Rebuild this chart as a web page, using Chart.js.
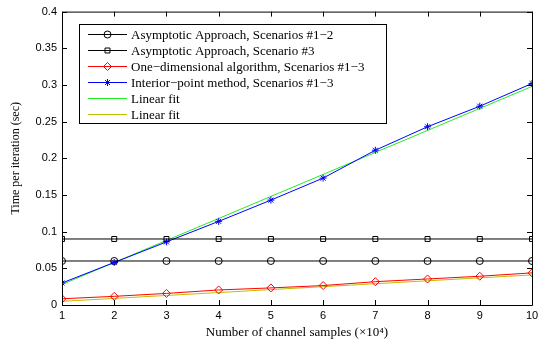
<!DOCTYPE html>
<html>
<head>
<meta charset="utf-8">
<script src="https://cdn.jsdelivr.net/npm/chart.js@4/dist/chart.umd.min.js"></script>
<style>
  html, body { margin: 0; padding: 0; background: #fff; }
  #wrap { width: 539px; height: 347px; }
</style>
</head>
<body>
<div id="wrap"><canvas id="chart" width="539" height="347"></canvas></div>
<script>
// ===== Data =====
const samples = [1, 2, 3, 4, 5, 6, 7, 8, 9, 10];
const yTicks = [0, 0.05, 0.1, 0.15, 0.2, 0.25, 0.3, 0.35, 0.4];

const asymp12 = [0.06, 0.06, 0.06, 0.06, 0.06, 0.06, 0.06, 0.06, 0.06, 0.06];
const asymp3 = [0.09, 0.09, 0.09, 0.09, 0.09, 0.09, 0.09, 0.09, 0.09, 0.09];
const oneDim = [0.0085, 0.0118, 0.0158, 0.0205, 0.0233, 0.0265, 0.0318, 0.0355, 0.0392, 0.0438];
const interior = [0.030, 0.058, 0.086, 0.114, 0.143, 0.173, 0.211, 0.243, 0.271, 0.302];
const fitInterior = [0.028, 0.058, 0.088, 0.118, 0.148, 0.178, 0.208, 0.238, 0.268, 0.298];
const fitOneDim = [0.005, 0.009, 0.013, 0.017, 0.021, 0.025, 0.029, 0.033, 0.037, 0.041];

const labels = [
  "Asymptotic Approach, Scenarios #1\u22122",
  "Asymptotic Approach, Scenario #3",
  "One\u2212dimensional algorithm, Scenarios #1\u22123",
  "Interior\u2212point method, Scenarios #1\u22123",
  "Linear fit",
  "Linear fit",
];

const toXY = (arr) => arr.map((v, i) => ({ x: samples[i], y: v }));

// ===== Plugins =====
// MATLAB style box with inward ticks
const boxTicks = {
  id: "boxTicks",
  afterDatasetsDraw(chart) {
    const { ctx, chartArea: a, scales } = chart;
    ctx.save();
    ctx.strokeStyle = "#000";
    ctx.lineWidth = 1;
    ctx.beginPath();
    ctx.rect(a.left + 0.5, a.top + 0.5, a.right - a.left, a.bottom - a.top);
    const len = 5;
    samples.forEach((v) => {
      const x = Math.round(scales.x.getPixelForValue(v)) + 0.5;
      ctx.moveTo(x, a.bottom); ctx.lineTo(x, a.bottom - len);
      ctx.moveTo(x, a.top); ctx.lineTo(x, a.top + len);
    });
    yTicks.forEach((v) => {
      const y = Math.round(scales.y.getPixelForValue(v)) + 0.5;
      ctx.moveTo(a.left, y); ctx.lineTo(a.left + len, y);
      ctx.moveTo(a.right, y); ctx.lineTo(a.right - len, y);
    });
    ctx.stroke();
    ctx.restore();
  },
};

// legend with line + marker, like MATLAB
const boxLegend = {
  id: "boxLegend",
  afterDraw(chart) {
    const ctx = chart.ctx;
    const x0 = 79, y0 = 24, w = 307, h = 99;
    ctx.save();
    ctx.fillStyle = "#fff";
    ctx.fillRect(x0, y0, w, h);
    ctx.strokeStyle = "#000";
    ctx.lineWidth = 1;
    ctx.strokeRect(x0 + 0.5, y0 + 0.5, w, h);
    ctx.font = "13px 'Liberation Serif'";
    ctx.textBaseline = "middle";
    chart.data.datasets.forEach((ds, i) => {
      const y = y0 + 10.5 + i * 16;
      ctx.strokeStyle = ds.borderColor;
      ctx.lineWidth = 1;
      ctx.beginPath();
      ctx.moveTo(88, y); ctx.lineTo(127, y);
      ctx.stroke();
      if (ds.pointStyle && ds.pointRadius > 0) {
        ctx.fillStyle = ds.pointBackgroundColor;
        ctx.strokeStyle = ds.borderColor;
        Chart.helpers.drawPoint(ctx, {
          pointStyle: ds.pointStyle, radius: ds.pointRadius, rotation: 0, borderWidth: 1,
        }, 107.5, y);
      }
      ctx.fillStyle = "#000";
      ctx.fillText(ds.label, 131, y + 1);
    });
    ctx.restore();
  },
};

// ===== Chart =====
function line(label, data, color, style, radius) {
  return {
    label: label,
    data: toXY(data),
    borderColor: color,
    backgroundColor: color,
    pointBackgroundColor: "rgba(0,0,0,0)",
    pointBorderColor: color,
    pointStyle: style,
    pointRadius: radius,
    pointBorderWidth: 1,
    borderWidth: 1,
    tension: 0,
  };
}

const ctx = document.getElementById("chart").getContext("2d");
new Chart(ctx, {
  type: "line",
  data: {
    datasets: [
      line(labels[5], fitOneDim, "#c0c000", false, 0),
      line(labels[4], fitInterior, "#22ee22", false, 0),
      line(labels[3], interior, "#0000ff", "star", 3.5),
      line(labels[2], oneDim, "#ff0000", "rectRot", 4),
      line(labels[1], asymp3, "#000000", "rect", 3.5),
      line(labels[0], asymp12, "#000000", "circle", 3.5),
    ].reverse(),
  },
  options: {
    responsive: false,
    animation: false,
    layout: { padding: { left: 0, right: 7, top: 8, bottom: 0 } },
    plugins: { legend: { display: false }, tooltip: { enabled: false } },
    scales: {
      x: {
        type: "linear",
        min: 1,
        max: 10,
        afterFit: (s) => { s.height = 42; s.paddingRight = 0; s.paddingLeft = 0; },
        afterBuildTicks: (s) => { s.ticks = samples.map((v) => ({ value: v })); },
        grid: { display: false, drawTicks: false },
        border: { display: false },
        ticks: {
          color: "#000",
          padding: 4,
          maxRotation: 0,
          font: { family: "'Liberation Sans'", size: 11 },
        },
        title: {
          display: true,
          text: "Number of channel samples (\u00d710\u2074)",
          color: "#000",
          padding: { top: 2, bottom: 7 },
          font: { family: "'Liberation Serif'", size: 13 },
        },
      },
      y: {
        type: "linear",
        min: 0,
        max: 0.4,
        afterFit: (s) => { s.width = 62; },
        afterBuildTicks: (s) => { s.ticks = yTicks.map((v) => ({ value: v })); },
        grid: { display: false, drawTicks: false },
        border: { display: false },
        ticks: {
          color: "#000",
          padding: 5,
          font: { family: "'Liberation Sans'", size: 11 },
          callback: (v) => String(+v.toFixed(2)),
        },
        title: {
          display: true,
          text: "Time per iteration (sec)",
          color: "#000",
          padding: { top: 9, bottom: 0 },
          font: { family: "'Liberation Serif'", size: 12 },
        },
      },
    },
  },
  plugins: [boxTicks, boxLegend],
});
</script>
</body>
</html>
